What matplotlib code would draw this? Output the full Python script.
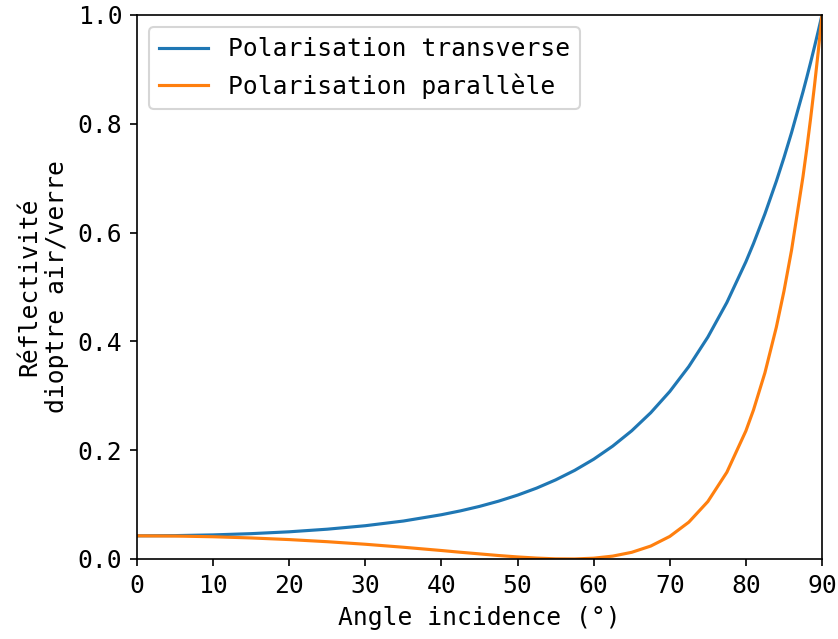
import numpy as np
import matplotlib
matplotlib.use("Agg")
import matplotlib.pyplot as plt

plt.rcParams['font.family'] = ['DejaVu Sans Mono']
plt.rcParams['font.size'] = 11.8

# incidence angles (deg) and reflectivities
angles = [0, 5, 10, 15, 20, 25, 30, 35, 40, 42.5, 45, 47.5, 50, 52.5, 55,
          57.5, 60, 62.5, 65, 67.5, 70, 72.5, 75, 77.5, 80, 81, 82.5, 84,
          85, 86, 87.5, 88, 88.5, 89, 89.5, 90]
r_trans = [0.0426, 0.0430, 0.0443, 0.0466, 0.0500, 0.0548, 0.0612, 0.0698,
           0.0814, 0.0885, 0.0967, 0.1063, 0.1174, 0.1303, 0.1454,
           0.1629, 0.1834, 0.2075, 0.2357, 0.2689, 0.3079, 0.3538, 0.4079,
           0.4715, 0.5464, 0.5799, 0.6344, 0.6944, 0.7377, 0.7838, 0.8587,
           0.8852, 0.9126, 0.9409, 0.9700, 1.0]
r_par = [0.0426, 0.0422, 0.0409, 0.0387, 0.0357, 0.0318, 0.0271, 0.0216,
         0.0156, 0.0124, 0.0094, 0.0064, 0.0038, 0.0017, 0.0003,
         0.0001, 0.0015, 0.0053, 0.0123, 0.0238, 0.0415, 0.0677, 0.1056,
         0.1595, 0.2355, 0.2740, 0.3423, 0.4261, 0.4922, 0.5678, 0.7027,
         0.7542, 0.8094, 0.8686, 0.9320, 1.0]
labels = ["Polarisation transverse", "Polarisation parallèle"]

fig = plt.figure(figsize=(838 / 150, 639 / 150), dpi=150)
ax = fig.add_axes([137 / 838, 80 / 639, 685 / 838, 544 / 639])

ax.plot(angles, r_trans, color="#1f77b4", label=labels[0])
ax.plot(angles, r_par, color="#ff7f0e", label=labels[1])

ax.set_xlim(0, 90)
ax.set_ylim(0, 1)
ax.set_xlabel("Angle incidence (°)")
ax.set_ylabel("Réflectivité\ndioptre air/verre")
ax.legend(loc="upper left")

fig.savefig("out.png", dpi=150)
